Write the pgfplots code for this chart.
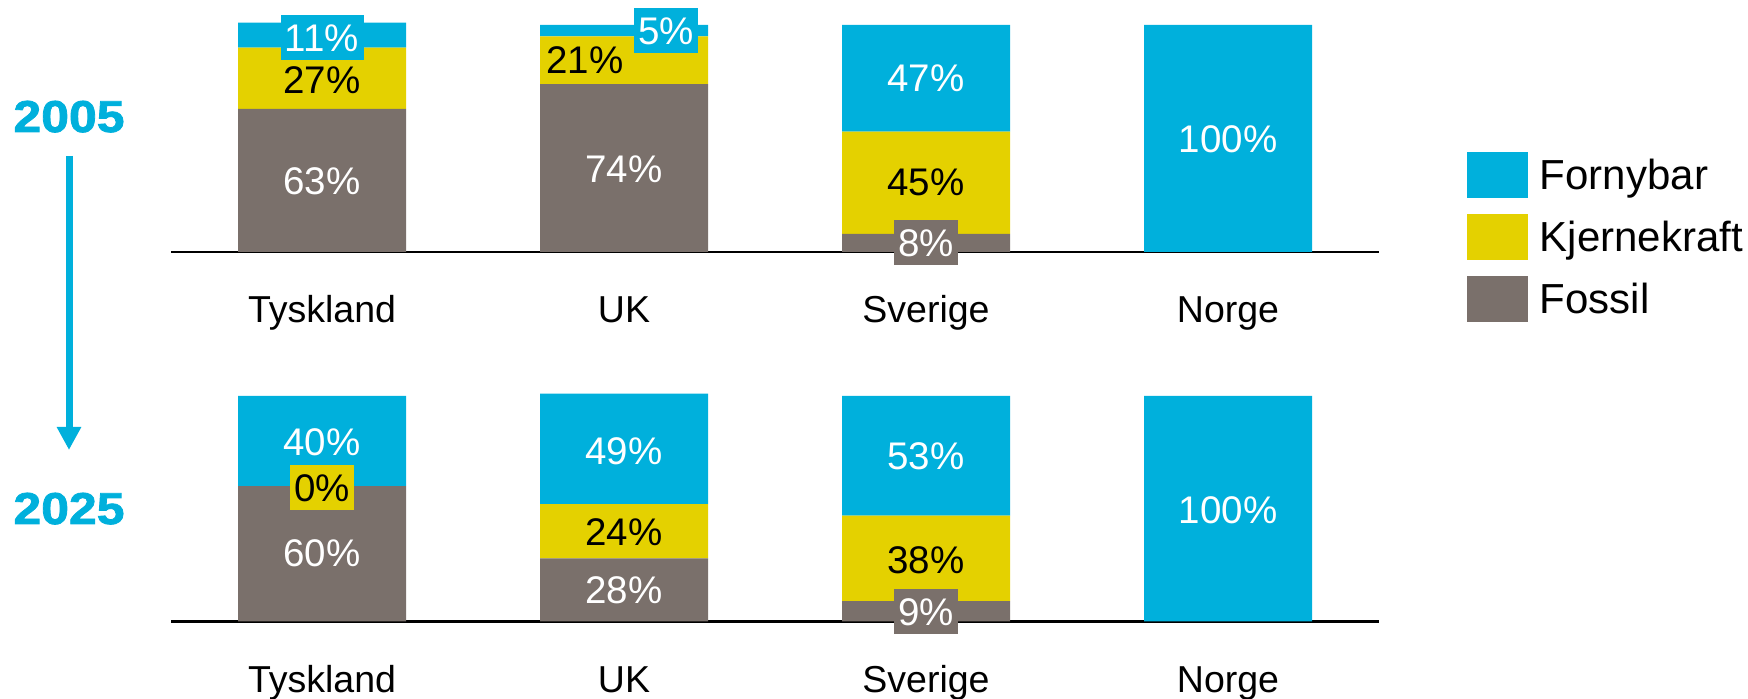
\documentclass[border=0pt]{standalone}
\usepackage{fontspec}
\setmainfont{Liberation Sans}
\newfontfamily\heavy[FakeBold=1.8,FakeStretch=1.12]{Liberation Sans}
\usepackage{pgfplots}
\pgfplotsset{compat=1.18}
\usepackage{pgfplotstable}
\usetikzlibrary{arrows.meta}
\definecolor{cblue}{HTML}{00B0DC}
\definecolor{cyel}{HTML}{E4D100}
\definecolor{cgray}{HTML}{7A706B}
\newcommand\lab{\fontsize{18.75}{20}\selectfont}
\newcommand\vlab{\fontsize{19.25}{21}\selectfont}
\newcommand\legfont{\fontsize{21}{23}\selectfont}

\pgfplotstableread{
x fos kje forn
0 63 27 11
1 74 21 5
2 8 45 47
3 0 0 100
}\topdata
\pgfplotstableread{
x fos kje forn
0 60 0 40
1 28 24 49
2 9 38 53
3 0 0 100
}\botdata

\pgfplotsset{
  mylegend/.style={legend image code/.code={\fill[##1] (0pt,-11.5pt) rectangle (30.5pt,11.5pt);}},
  panel/.style={
    scale only axis, width=604pt, xmin=-0.5, xmax=3.5, ymin=0, ymax=100,
    ybar stacked, bar width=84pt, clip=false,
    axis x line=bottom, axis y line=none,
    x axis line style={-, line width=1.2pt, black},
    xtick={0,1,2,3}, xticklabels={Tyskland,UK,Sverige,Norge},
    major tick length=0pt,
    xticklabel style={anchor=base, yshift=-35.5pt, font=\lab, text=black},
  },
}
\tikzset{
  pl/.style={font=\vlab, inner sep=0pt, text height=13.8pt, text depth=0pt, anchor=center},
  bx/.style={pl, inner xsep=2.2pt, inner ysep=4.35pt},
}

\begin{document}
\begin{tikzpicture}
\useasboundingbox (0,0) rectangle (874pt,349.5pt);

% top panel (2005)
\begin{axis}[panel, height=113.5pt, at={(85.5pt,223.5pt)}, anchor=south west,
  reverse legend, legend cell align=left,
  legend style={draw=none, fill=none, at={(1.0728,0.4405)}, anchor=north west,
    inner sep=0pt, outer sep=0pt, row sep=8pt,
    nodes={inner sep=0pt, text height=19pt, text depth=4pt, font=\legfont},
    /tikz/every odd column/.append style={column sep=6pt}}]
\addplot[fill=cgray, draw=none, mylegend] table[x=x, y=fos] {\topdata};
\addplot[fill=cyel, draw=none, mylegend] table[x=x, y=kje] {\topdata};
\addplot[fill=cblue, draw=none, mylegend] table[x=x, y=forn] {\topdata};
\legend{Fossil,Kjernekraft,Fornybar}
\coordinate (t1) at (axis cs:0,31.5);
\coordinate (t2) at (axis cs:0,76);
\coordinate (t3) at (axis cs:0,94.5);
\coordinate (t4) at (axis cs:1,36.5);
\coordinate (t5) at (axis cs:0.871,84.6);
\coordinate (t6) at (axis cs:1.139,97.4);
\coordinate (t7) at (axis cs:2,76.6);
\coordinate (t8) at (axis cs:2,30.8);
\coordinate (t9) at (axis cs:2,4.2);
\coordinate (t10) at (axis cs:3,50);
\end{axis}

% bottom panel (2025)
\begin{axis}[panel, height=112.75pt, at={(85.5pt,38.75pt)}, anchor=south west]
\addplot[fill=cgray, draw=none] table[x=x, y=fos] {\botdata};
\addplot[fill=cyel, draw=none] table[x=x, y=kje] {\botdata};
\addplot[fill=cblue, draw=none] table[x=x, y=forn] {\botdata};
\coordinate (b1) at (axis cs:0,79.6);
\coordinate (b2) at (axis cs:0,59.4);
\coordinate (b3) at (axis cs:0,30.4);
\coordinate (b4) at (axis cs:1,75.6);
\coordinate (b5) at (axis cs:1,39.7);
\coordinate (b6) at (axis cs:1,14);
\coordinate (b7) at (axis cs:2,73.4);
\coordinate (b8) at (axis cs:2,27.3);
\coordinate (b9) at (axis cs:2,4.4);
\coordinate (b10) at (axis cs:3,49.4);
\end{axis}

% value labels
\node[pl,white] at (t1) {63\%};
\node[pl] at (t2) {27\%};
\node[bx,fill=cblue,text=white] at (t3) {11\%};
\node[pl,white] at (t4) {74\%};
\node[pl] at (t5) {21\%};
\node[bx,fill=cblue,text=white] at (t6) {5\%};
\node[pl,white] at (t7) {47\%};
\node[pl] at (t8) {45\%};
\node[bx,fill=cgray,text=white] at (t9) {8\%};
\node[pl,white] at (t10) {100\%};

\node[pl,white] at (b1) {40\%};
\node[bx,fill=cyel] at (b2) {0\%};
\node[pl,white] at (b3) {60\%};
\node[pl,white] at (b4) {49\%};
\node[pl] at (b5) {24\%};
\node[pl,white] at (b6) {28\%};
\node[pl,white] at (b7) {53\%};
\node[pl] at (b8) {38\%};
\node[bx,fill=cgray,text=white] at (b9) {9\%};
\node[pl,white] at (b10) {100\%};

% year annotations and arrow
\node[font=\heavy\bfseries\fontsize{22.3}{24}\selectfont, text=cblue, text height=16pt, text depth=0pt, inner sep=0pt] at (34.5pt,291.5pt) {2005};
\node[font=\heavy\bfseries\fontsize{22.3}{24}\selectfont, text=cblue, text height=16pt, text depth=0pt, inner sep=0pt] at (34.5pt,95.5pt) {2025};
\draw[cblue, line width=3.5pt, -{Triangle[length=11.5pt,width=11.5pt]}] (34.5pt,271.5pt) -- (34.5pt,124.5pt);
\end{tikzpicture}
\end{document}
